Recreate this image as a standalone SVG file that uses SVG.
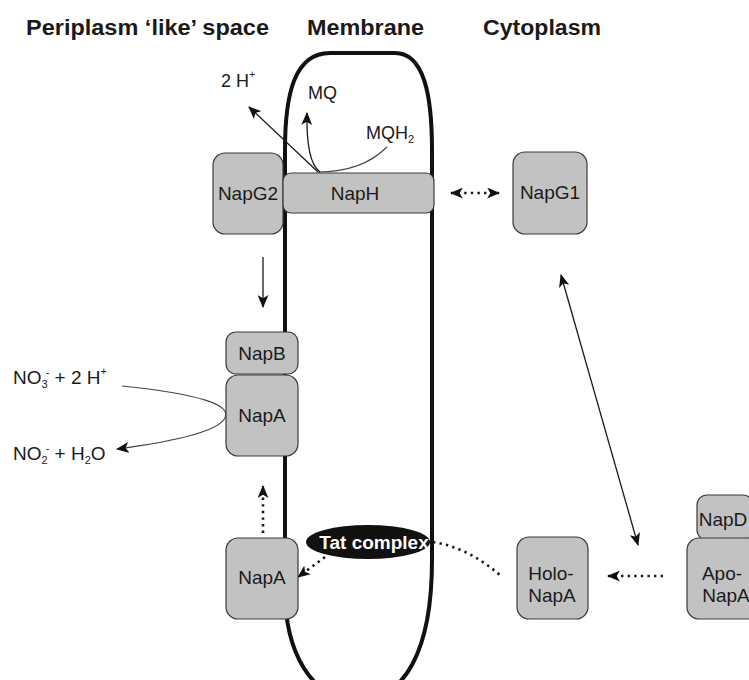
<svg xmlns="http://www.w3.org/2000/svg" width="749" height="680" viewBox="0 0 749 680">
<style>
.title{font-family:"Liberation Sans",Arial,sans-serif;font-weight:bold;font-size:22px;fill:#1a1a1a}
.lbl{font-family:"Liberation Sans",Arial,sans-serif;font-size:19px;fill:#1a1a1a;text-anchor:middle}
.chem{font-family:"Liberation Sans",Arial,sans-serif;font-size:18px;fill:#1a1a1a}
.big{font-size:19px}
.box{fill:#c2c2c2;stroke:#3a3a3a;stroke-width:1.2}
.ln{fill:none;stroke:#1a1a1a;stroke-width:1.3}
.thin{fill:none;stroke:#444;stroke-width:1.1}
.dot{fill:none;stroke:#1a1a1a;stroke-width:2.6;stroke-dasharray:2.4 4.2}
</style>
<defs>
<marker id="ah" viewBox="0 0 12 10" refX="11" refY="5" markerWidth="13" markerHeight="11" orient="auto-start-reverse" markerUnits="userSpaceOnUse">
<path d="M0,0 L12,5 L0,10 L3,5 z" fill="#111"/>
</marker>
</defs>

<g id="titles">
<text class="title" x="26" y="35" textLength="243" lengthAdjust="spacingAndGlyphs">Periplasm ‘like’ space</text>
<text class="title" x="307" y="35" textLength="117" lengthAdjust="spacingAndGlyphs">Membrane</text>
<text class="title" x="483" y="35" textLength="118" lengthAdjust="spacingAndGlyphs">Cytoplasm</text>
</g>

<g id="membrane">
<path d="M285,590 L285,150 C285,95 294,53 330,53 L395,53 C424,53 432,95 432,150 L432,560 C432,650 405,700 358,700 C310,700 285,650 285,590 Z" fill="none" stroke="#111" stroke-width="4"/>
</g>

<g id="connectors">
<path class="thin" d="M387,147 Q362,172 318,172"/>
<path class="ln" d="M318,172 L249,107" marker-end="url(#ah)"/>
<path class="ln" d="M320,172 Q306,162 307,113" marker-end="url(#ah)"/>
<path class="ln" d="M263,257 L263,307" marker-end="url(#ah)"/>
<path class="dot" d="M451,193 L499,193" marker-start="url(#ah)" marker-end="url(#ah)"/>
<path class="ln" d="M561,275 L638,545" marker-start="url(#ah)" marker-end="url(#ah)"/>
<path class="thin" d="M122,386 C200,394 232,405 225,418 C218,432 170,442 117,449" marker-end="url(#ah)"/>
<path class="dot" d="M263,533 L263,486" marker-end="url(#ah)"/>
<path class="dot" d="M325,557 L298,577" marker-end="url(#ah)"/>
<path class="dot" d="M433,542 Q470,548 502,577"/>
<path class="dot" d="M663,576 L608,576" marker-end="url(#ah)"/>
</g>

<g id="chem-labels">
<text class="chem" x="221" y="87">2 H<tspan font-size="11" dy="-9">+</tspan></text>
<text class="chem" x="308" y="99">MQ</text>
<text class="chem" x="366" y="139">MQH<tspan font-size="11" dy="4">2</tspan></text>
<text class="chem big" x="13" y="384">NO<tspan font-size="11" dy="4">3</tspan><tspan font-size="11" dx="-2" dy="-12">-</tspan><tspan dy="8"> + 2 H</tspan><tspan font-size="11" dy="-9">+</tspan></text>
<text class="chem big" x="13" y="460">NO<tspan font-size="11" dy="4">2</tspan><tspan font-size="11" dx="-2" dy="-12">-</tspan><tspan dy="8"> + H</tspan><tspan font-size="11" dy="4">2</tspan><tspan dy="-4">O</tspan></text>
</g>

<g id="NapG2"><rect class="box" x="213" y="153" width="70" height="81" rx="12"/><text class="lbl" x="248" y="200">NapG2</text></g>
<g id="NapH"><rect class="box" x="283" y="173" width="151" height="40" rx="8"/><text class="lbl" x="355" y="200">NapH</text></g>
<g id="NapG1"><rect class="box" x="513" y="152" width="74" height="82" rx="12"/><text class="lbl" x="550" y="199">NapG1</text></g>
<g id="NapB"><rect class="box" x="226" y="332" width="72" height="42" rx="10"/><text class="lbl" x="262" y="360">NapB</text></g>
<g id="NapA-top"><rect class="box" x="226" y="375" width="72" height="81" rx="12"/><text class="lbl" x="262" y="422">NapA</text></g>
<g id="NapA-bottom"><rect class="box" x="226" y="538" width="72" height="81" rx="12"/><text class="lbl" x="262" y="584">NapA</text></g>
<g id="Tat"><ellipse cx="368" cy="542" rx="62" ry="17" fill="#111"/><text x="374" y="549" font-family="Liberation Sans,Arial,sans-serif" font-weight="bold" font-size="19" fill="#fff" text-anchor="middle">Tat complex</text></g>
<g id="Holo-NapA"><rect class="box" x="517" y="537" width="71" height="82" rx="12"/><text class="lbl" x="551" y="580">Holo-</text><text class="lbl" x="552" y="602">NapA</text></g>
<g id="NapD"><rect class="box" x="697" y="495" width="56" height="45" rx="10"/><text class="lbl" x="723" y="526">NapD</text></g>
<g id="Apo-NapA"><rect class="box" x="687" y="538" width="78" height="81" rx="12"/><text class="lbl" x="722" y="580">Apo-</text><text class="lbl" x="726" y="602">NapA</text></g>
</svg>
